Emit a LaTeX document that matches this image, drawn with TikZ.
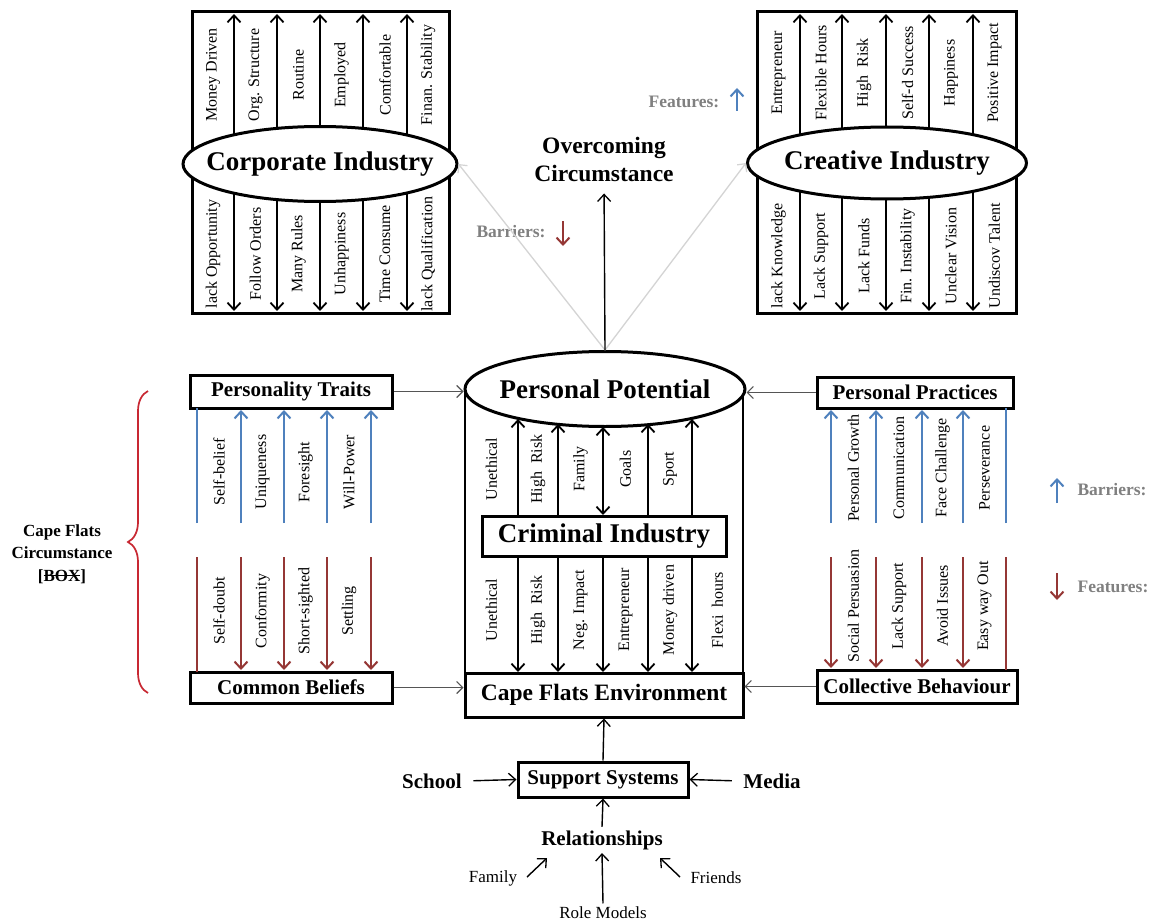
\documentclass[tikz,border=0pt]{standalone}
\usepackage{fontspec}
\setmainfont{Liberation Serif}
\usetikzlibrary{arrows.meta,shapes.geometric,decorations.pathreplacing,calc}

\definecolor{upblue}{RGB}{79,129,189}
\definecolor{downred}{RGB}{149,55,53}
\definecolor{bracered}{RGB}{200,40,50}
\definecolor{legendgray}{RGB}{128,128,128}
\definecolor{linkgray}{RGB}{85,85,85}
\definecolor{faintgray}{RGB}{212,212,212}

\newcommand{\fsz}[2]{\fontsize{#1}{#2}\selectfont}
% word with a line struck through its middle
\newsavebox{\strikebox}
\newcommand{\strikeword}[1]{\sbox{\strikebox}{#1}\rlap{\rule[0.3em]{\wd\strikebox}{1pt}}\usebox{\strikebox}}
% text that does not widen its node, so the ellipse keeps its set size
\newcommand{\nowidth}[1]{\makebox[0pt]{#1}}

\tikzset{
  frameline/.style={draw, line width=3pt},
  bigtitle/.style={font=\bfseries\fsz{27}{30}},
  ellnode/.style={ellipse, draw, line width=3pt, fill=white, inner sep=0pt, bigtitle},
  boxnode/.style={rectangle, draw, line width=3pt, fill=white, inner sep=0pt,
                  font=\bfseries\fsz{21}{24}},
  barb/.tip={Straight Barb[length=7pt,width=13pt,line width=1.8pt]},
  colarr/.style={line width=2pt, -barb},
  colarrboth/.style={line width=2pt, barb-barb},
  vlabel/.style={rotate=90, font=\fsz{16}{18}, inner sep=0pt},
  upline/.style={upblue, line width=2.2pt},
  downline/.style={downred, line width=2.2pt},
  uparr/.style={upline, -{Straight Barb[length=7pt,width=13pt,line width=2pt]}},
  downarr/.style={downline, -{Straight Barb[length=7pt,width=13pt,line width=2pt]}},
  link/.style={linkgray, line width=1.3pt, -{Straight Barb[length=6pt,width=12pt,line width=1.2pt]}},
  thinarr/.style={black, line width=1.4pt, -{Straight Barb[length=7pt,width=13pt,line width=1.3pt]}},
  faint/.style={faintgray, line width=1.3pt, -{Straight Barb[length=6pt,width=12pt,line width=1.2pt]}},
  legend/.style={legendgray, font=\bfseries\fsz{17.5}{20}},
  boldlabel/.style={font=\bfseries\fsz{21}{24}},
  plainlabel/.style={font=\fsz{17}{20}},
}

\begin{document}
\begin{tikzpicture}[x=1pt,y=-1pt]
\fill[white] (0,0) rectangle (1157,923);
\useasboundingbox (0,0) rectangle (1157,923);

% ---------------- Corporate Industry ----------------
\draw[frameline] (192,12) rectangle (449,313);
\foreach \x in {234,277,320,363,407}{
  \draw[colarr] (\x,164) -- (\x,14);
  \draw[colarr] (\x,164) -- (\x,311);
}
\node[ellnode, minimum width=274pt, minimum height=75pt] (corp) at (320,164) {\nowidth{Corporate Industry}};
\foreach \x/\t in {213/Money Driven, 255.5/Org. Structure, 298.5/Routine,
                   341.5/Employed, 385/Comfortable, 428/Finan. Stability}
  \node[vlabel] at (\x,75) {\t};
\foreach \x/\t in {213/lack Opportunity, 255.5/Follow Orders, 298.5/Many Rules,
                   341.5/Unhappiness, 385/Time Consume, 428/lack Qualification}
  \node[vlabel] at (\x,254) {\t};

% ---------------- Creative Industry ----------------
\draw[frameline] (757,12) rectangle (1016,313);
\foreach \x in {800,842,886,929,973}{
  \draw[colarr] (\x,163) -- (\x,14);
  \draw[colarr] (\x,163) -- (\x,311);
}
\node[ellnode, minimum width=279pt, minimum height=72pt] (creat) at (887,163) {\nowidth{Creative Industry}};
\foreach \x/\t in {778.5/Entrepreneur, 821/Flexible Hours, 864/High\ \ Risk,
                   907.5/Self-d Success, 951/Happiness, 994.5/Positive Impact}
  \node[vlabel] at (\x,73) {\t};
\foreach \x/\t in {778.5/lack Knowledge, 821/Lack Support, 864/Lack Funds,
                   907.5/Fin. Instability, 951/Unclear Vision, 994.5/Undiscov Talent}
  \node[vlabel] at (\x,256) {\t};

% ---------------- Overcoming Circumstance ----------------
\node[font=\bfseries\fsz{23.5}{28}, align=center, inner sep=0pt] (oc) at (604,159) {Overcoming\\Circumstance};
\node[legend] (featTop) at (684,102) {Features:};
\draw[uparr] (737,111) -- (737,88);
\node[legend] (barrTop) at (511,232) {Barriers:};
\draw[downarr] (563,221) -- (563,246);

% ---------------- Central column ----------------
\draw[line width=2.4pt] (465,389) -- (465,674);
\draw[line width=2.4pt] (743,389) -- (743,674);

\node[ellnode, minimum width=280pt, minimum height=75pt] (pp) at (605,389) {\nowidth{Personal Potential}};
\node[boxnode, bigtitle, minimum width=244pt, minimum height=40pt] (crim) at (604,536) {Criminal Industry};
\node[boxnode, font=\bfseries\fsz{23.5}{26}, minimum width=278pt, minimum height=44pt] (cfe) at (604,695) {Cape Flats Environment};

\foreach \x/\y in {518/419,558/424,648/424,692/419}
  \draw[colarr] (\x,515) -- (\x,\y);
\draw[colarrboth] (603,515) -- (603,427);
\foreach \x in {518,558,603,648,692}
  \draw[colarr] (\x,557) -- (\x,672);

\foreach \x/\t in {491.5/Unethical, 538/High\ \ Risk, 580.5/Family, 625.5/Goals, 670/Sport}
  \node[vlabel] at (\x,469) {\t};
\foreach \x/\t in {491.5/Unethical, 538/High\ \ Risk, 580.5/Neg. Impact, 625.5/Entrepreneur,
                   670/Money driven, 717.5/Flexi\ \ hours}
  \node[vlabel] at (\x,610) {\t};

% links from the potential to the two industries and upwards
\draw[faint] (pp.north) -- (corp.east);
\draw[faint] (pp.north) -- (creat.west);
\draw[thinarr, shorten >=12pt] (pp.north) -- (oc.south);

% ---------------- Left block ----------------
\node[boxnode, minimum width=202pt, minimum height=33pt] (ptraits) at (291,391.5) {Personality Traits};
\node[boxnode, minimum width=202pt, minimum height=31pt] (cbel) at (291,687.5) {Common Beliefs};
\draw[upline] (197,523) -- (197,408);
\foreach \x in {241,284,327,371} \draw[uparr] (\x,523) -- (\x,410);
\draw[downline] (197,557) -- (197,672);
\foreach \x in {241,284,327,371} \draw[downarr] (\x,557) -- (\x,670);
\foreach \x/\t in {219/Self-belief, 262.5/Uniqueness, 305.5/Foresight, 349/Will-Power}
  \node[vlabel] at (\x,472) {\t};
\foreach \x/\t in {219/Self-doubt, 262.5/Conformity, 305.5/Short-sighted, 349/Settling}
  \node[vlabel] at (\x,611) {\t};
\draw[link] (ptraits.east) -- (ptraits.east -| pp.west);
\draw[link] (cbel.east) -- (cbel.east -| cfe.west);

\draw[bracered, line width=1.7pt, decorate, decoration={brace, amplitude=20pt}] (148,693) -- (148,391);
\node[font=\bfseries\fsz{17}{22.5}, align=center] (cfc) at (62,554) {Cape Flats\\Circumstance\\{[}\strikeword{BOX}{]}};

% ---------------- Right block ----------------
\node[boxnode, minimum width=196pt, minimum height=31pt] (pprac) at (915,392.5) {Personal Practices};
\node[boxnode, minimum width=200pt, minimum height=33pt] (cbeh) at (917,686.5) {Collective Behaviour};
\foreach \x in {831,876,922,963} \draw[uparr] (\x,523) -- (\x,410);
\draw[upline] (1006,523) -- (1006,408);
\foreach \x in {831,876,922,963} \draw[downarr] (\x,557) -- (\x,668);
\draw[downline] (1006,557) -- (1006,670);
\foreach \x/\t in {853.5/Personal Growth, 899/Communication, 942.5/Face Challenge, 984.5/Perseverance}
  \node[vlabel] at (\x,468) {\t};
\foreach \x/\t in {853.5/Social Persuasion, 899/Lack Support, 942.5/Avoid Issues, 984.5/Easy way Out}
  \node[vlabel] at (\x,606) {\t};
\draw[link] (pprac.west) -- (pprac.west -| pp.east);
\draw[link] (cbeh.west) -- (cbeh.west -| cfe.east);

\draw[uparr] (1057,503) -- (1057,478);
\node[legend] (barrRight) at (1112,490) {Barriers:};
\draw[downarr] (1057,573) -- (1057,600);
\node[legend] (featRight) at (1113,587) {Features:};

% ---------------- Support systems ----------------
\node[boxnode, minimum width=170pt, minimum height=35pt] (sup) at (603,779.5) {Support Systems};
\node[boldlabel] (school) at (432,781) {School};
\node[boldlabel] (media) at (772,781) {Media};
\node[boldlabel] (rel) at (602,840) {Relationships};
\node[plainlabel] (fam) at (493,878) {Family};
\node[plainlabel] (friends) at (716,878) {Friends};
\node[plainlabel] (role) at (603,913) {Role Models};

\draw[thinarr] (sup.north) -- (cfe.south);
\draw[thinarr, shorten <=8pt] (school.east) -- (sup.west);
\draw[thinarr, shorten <=8pt] (media.west) -- (sup.east);
\draw[thinarr] (rel.north) -- (sup.south);

\coordinate (famtail) at (527,877);
\coordinate (famhead) at (547,858);
\coordinate (fritail) at (680,877);
\coordinate (frihead) at (660,858);
\draw[thinarr] (famtail) -- (famhead);
\draw[thinarr] (fritail) -- (frihead);
\draw[thinarr] (role.north) -- (rel.south);
\end{tikzpicture}
\end{document}
